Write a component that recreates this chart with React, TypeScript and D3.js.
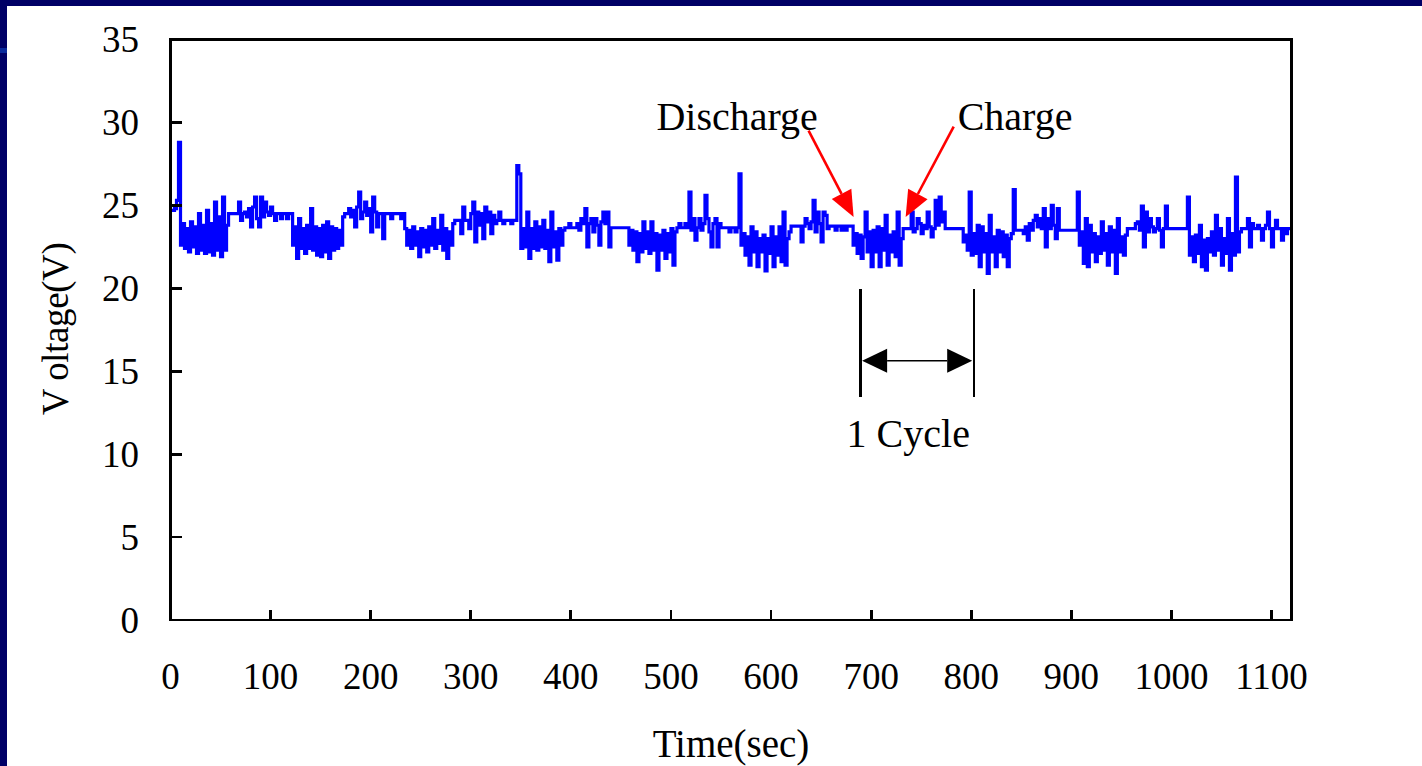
import React from "react";
import * as d3 from "d3";

// Axis ticks
const xTicks = [0, 100, 200, 300, 400, 500, 600, 700, 800, 900, 1000, 1100];
const yTicks = [0, 5, 10, 15, 20, 25, 30, 35];

// Voltage readings, one every 2 s, grouped by discharge / charge phase
const sampleStep = 2;
const segmentStarts = [
  0, 58, 122, 172, 234, 282, 350, 392, 458, 506,
  570, 618, 682, 732, 792, 840, 908, 956, 1018, 1070,
];

const discharge1 = [24.7, 24.7, 24.8, 25.3, 28.8, 22.6, 23.9, 22.4, 23.6, 22.2, 24.0, 22.5, 23.7, 22.1, 24.5, 22.3, 23.8, 22.1, 24.7, 22.2, 23.9, 22.0, 25.2, 22.3, 24.3, 21.9, 25.5, 22.3, 23.8];
const charge1 = [24.5, 24.5, 24.5, 24.5, 24.5, 25.2, 24.1, 24.5, 24.6, 24.3, 24.8, 23.7, 24.9, 25.5, 24.2, 23.7, 25.5, 24.3, 25.2, 24.6, 24.4, 24.9, 24.5, 24.1, 24.5, 24.5, 24.2, 24.5, 24.5, 24.2, 24.5, 24.5];
const discharge2 = [22.6, 23.7, 21.8, 24.2, 22.4, 23.6, 22.1, 23.8, 22.4, 24.8, 22.3, 23.7, 22.0, 23.6, 21.9, 23.8, 22.2, 24.0, 21.8, 23.7, 22.3, 23.6, 22.4, 23.5, 22.6];
const charge2 = [24.3, 24.5, 24.5, 24.8, 24.3, 24.7, 23.7, 24.9, 25.8, 24.2, 24.6, 25.2, 24.4, 24.8, 23.4, 25.5, 24.6, 23.7, 24.5, 24.5, 23.0, 24.5, 24.5, 24.5, 24.2, 24.5, 24.5, 24.5, 24.5, 24.2, 24.5];
const discharge3 = [23.6, 22.6, 23.5, 22.4, 23.7, 22.6, 23.4, 21.9, 23.6, 22.5, 23.5, 22.2, 23.7, 22.6, 24.2, 22.4, 23.5, 22.7, 24.4, 22.3, 23.6, 21.8, 23.4, 22.6];
const charge3 = [23.9, 24.1, 24.1, 24.1, 23.3, 24.9, 24.1, 24.1, 23.6, 24.5, 25.2, 22.8, 24.6, 23.8, 24.5, 23.0, 24.9, 24.0, 24.6, 23.3, 24.4, 23.9, 24.1, 24.6, 24.1, 23.9, 24.1, 24.1, 24.1, 23.9, 24.1, 24.1, 27.4, 26.9];
const discharge4 = [22.4, 23.6, 22.5, 24.6, 21.8, 23.6, 22.4, 24.0, 22.3, 23.7, 22.5, 24.1, 22.4, 23.5, 21.6, 24.6, 22.5, 23.4, 21.7, 23.6, 22.6];
const charge4 = [23.5, 23.65, 23.65, 23.9, 23.65, 23.65, 23.65, 23.9, 23.5, 24.2, 23.9, 24.8, 22.5, 23.9, 24.2, 23.4, 24.2, 23.8, 22.6, 24.0, 24.6, 23.9, 24.6, 22.5, 23.65, 23.65, 23.65, 23.65, 23.65, 23.65, 23.65, 23.65, 23.65];
const discharge5 = [22.6, 23.5, 22.3, 23.4, 21.6, 23.3, 22.2, 24.0, 22.4, 23.4, 22.1, 24.0, 22.3, 23.3, 21.1, 23.2, 22.3, 23.5, 21.8, 23.3, 22.2, 23.6, 21.4, 23.4];
const charge5 = [23.65, 23.9, 23.65, 23.65, 23.9, 23.65, 25.8, 23.5, 24.2, 22.9, 23.65, 24.2, 23.5, 23.9, 25.6, 24.2, 23.4, 22.5, 23.9, 24.2, 22.5, 23.9, 23.65, 23.65, 23.65, 23.65, 23.4, 23.65, 23.65, 23.4, 23.65, 26.9];
const discharge6 = [22.6, 23.3, 22.0, 23.1, 21.4, 23.7, 22.2, 23.4, 21.3, 23.0, 22.2, 23.2, 21.05, 23.0, 22.1, 23.7, 21.3, 23.1, 22.0, 23.7, 21.6, 24.6, 21.4, 23.0];
const charge6 = [23.4, 23.75, 23.75, 23.75, 23.75, 23.75, 22.8, 23.75, 24.2, 23.9, 23.6, 24.0, 25.3, 23.4, 24.6, 23.9, 22.8, 24.6, 24.4, 23.6, 23.75, 23.75, 23.75, 23.5, 23.75, 23.75, 23.5, 23.75, 23.5, 23.75, 23.75, 23.75];
const discharge7 = [22.6, 23.3, 22.1, 23.2, 21.8, 23.1, 24.6, 22.2, 23.4, 21.3, 23.5, 22.2, 23.7, 21.3, 23.6, 22.3, 24.4, 21.4, 23.2, 22.2, 23.4, 21.9, 24.6, 21.4, 23.0];
const charge7 = [23.6, 23.6, 23.6, 23.6, 24.6, 23.4, 23.6, 24.2, 23.9, 23.3, 23.8, 23.6, 24.6, 23.7, 23.1, 23.6, 25.3, 23.8, 25.5, 24.0, 24.6, 23.6, 23.6, 23.6, 23.6, 23.6, 23.6, 23.6, 23.6, 23.6];
const discharge8 = [22.8, 23.2, 22.3, 25.8, 22.0, 23.3, 22.1, 23.8, 21.3, 23.7, 22.2, 23.3, 20.9, 24.4, 22.2, 23.1, 21.3, 23.5, 22.2, 23.4, 21.9, 23.2, 21.3, 23.0];
const charge8 = [23.3, 25.95, 23.5, 23.5, 23.5, 23.5, 23.3, 23.7, 22.9, 23.9, 23.5, 24.1, 24.4, 23.7, 24.2, 23.6, 24.8, 22.5, 24.2, 23.6, 25.0, 23.8, 23.0, 24.8, 23.5, 23.5, 23.5, 23.5, 23.5, 23.5, 23.5, 23.5, 23.5, 25.8];
const discharge9 = [22.6, 23.4, 21.5, 24.2, 21.3, 23.8, 22.2, 23.3, 21.6, 23.1, 22.1, 24.0, 22.3, 23.3, 21.4, 23.7, 22.2, 23.5, 20.9, 24.2, 22.2, 23.1, 22.0, 23.2];
const charge9 = [23.6, 23.6, 23.6, 23.6, 23.9, 24.0, 23.5, 24.95, 22.5, 24.6, 23.4, 24.2, 23.7, 23.4, 23.6, 24.2, 23.5, 22.5, 23.6, 24.95, 23.6, 23.6, 23.6, 23.6, 23.6, 23.6, 23.6, 23.6, 23.6, 23.6, 25.5];
const discharge10 = [22.0, 23.1, 21.6, 23.2, 22.1, 23.8, 21.3, 22.9, 21.1, 23.0, 22.2, 23.4, 22.0, 24.4, 22.3, 23.6, 21.4, 23.0, 22.1, 24.2, 21.1, 23.3, 22.0, 26.7, 22.2, 23.4];
const charge10 = [23.6, 23.6, 23.6, 24.2, 22.5, 23.9, 23.6, 23.6, 23.8, 23.6, 22.9, 23.6, 23.8, 24.6, 23.6, 22.5, 23.6, 24.1, 23.6, 23.6, 22.9, 23.6, 23.3, 23.6, 23.6, 23.6];

const segments = [
  discharge1, charge1, discharge2, charge2, discharge3, charge3, discharge4, charge4,
  discharge5, charge5, discharge6, charge6, discharge7, charge7, discharge8, charge8,
  discharge9, charge9, discharge10, charge10,
];

// Annotation anchors in data units (time s, voltage V)
const phaseLabels = [
  { text: "Discharge", t: 485.5, v: 29.54 },
  { text: "Charge", t: 786.5, v: 29.54 },
];
const phaseArrows = [
  { from: [637.5, 29.5], to: [682.5, 24.3] },
  { from: [782.5, 29.75], to: [734.5, 24.3] },
];
const cycleSpan = { start: 689.5, end: 802.5, top: 19.93, bottom: 13.43, arrowAt: 15.63 };
const cycleLabel = { text: "1 Cycle", t: 675.5, v: 10.41 };

const W = 1422;
const H = 766;
const FONT = "'Liberation Serif', 'Times New Roman', serif";

function arrowHead(x1: number, y1: number, x2: number, y2: number, len: number, half: number) {
  const dx = x2 - x1;
  const dy = y2 - y1;
  const d = Math.hypot(dx, dy);
  const ux = dx / d;
  const uy = dy / d;
  const bx = x2 - ux * len;
  const by = y2 - uy * len;
  const nx = -uy;
  const ny = ux;
  return {
    base: [bx, by],
    points: `${x2},${y2} ${bx + nx * half},${by + ny * half} ${bx - nx * half},${by - ny * half}`,
  };
}

export default function App() {
  const x = d3.scaleLinear().domain([0, 1120]).range([170.5, 1291.5]);
  const y = d3.scaleLinear().domain([0, 35]).range([620, 39.5]);

  const points: [number, number][] = segments.flatMap((vals, s) =>
    vals.map((v, k) => [segmentStarts[s] + k * sampleStep, v] as [number, number])
  );
  const line = d3
    .line<[number, number]>()
    .x((d) => x(d[0]))
    .y((d) => y(d[1]))
    .curve(d3.curveStepAfter);

  const [x0, x1] = x.range();
  const [y0, y1] = y.range();

  const cy = y(cycleSpan.arrowAt);
  const cxl = x(cycleSpan.start);
  const cxr = x(cycleSpan.end);
  const leftHead = arrowHead(cxr, cy, cxl + 1.5, cy, 25, 12);
  const rightHead = arrowHead(cxl, cy, cxr - 1.5, cy, 25, 12);

  return (
    <svg
      width={W}
      height={H}
      style={{ position: "fixed", left: 0, top: 0, background: "#ffffff" }}
      fontFamily={FONT}
    >
      <rect x={0} y={0} width={W} height={H} fill="#ffffff" />
      {/* slide border */}
      <rect x={0} y={0} width={W} height={6} fill="#000066" />
      <rect x={0} y={0} width={7} height={H} fill="#000066" />
      <rect x={0} y={48} width={7} height={5} fill="#0a2a9c" />

      {/* voltage trace */}
      <path
        d={line(points) || ""}
        fill="none"
        stroke="#0000ff"
        strokeWidth={3.2}
        strokeLinejoin="miter"
      />

      {/* plot frame */}
      <rect
        x={x0}
        y={y1}
        width={x1 - x0}
        height={y0 - y1}
        fill="none"
        stroke="#000"
        strokeWidth={2.6}
        shapeRendering="crispEdges"
      />

      {/* y ticks and labels */}
      {yTicks.map((t) => (
        <g key={`y${t}`}>
          {t > 0 && t < 35 && (
            <line x1={x0} x2={x0 + 11} y1={y(t)} y2={y(t)} stroke="#000" strokeWidth={2.8} shapeRendering="crispEdges" />
          )}
          <text x={139} y={y(t)} dy="0.34em" textAnchor="end" fontSize={37} fill="#000">
            {t}
          </text>
        </g>
      ))}

      {/* x ticks and labels */}
      {xTicks.map((t) => (
        <g key={`x${t}`}>
          {t > 0 && (
            <line x1={x(t)} x2={x(t)} y1={y0} y2={y0 - 10} stroke="#000" strokeWidth={2.8} shapeRendering="crispEdges" />
          )}
          <text x={x(t)} y={689} textAnchor="middle" fontSize={37} fill="#000">
            {t}
          </text>
        </g>
      ))}

      {/* axis titles */}
      <text x={(x0 + x1) / 2} y={756.5} textAnchor="middle" fontSize={39} fill="#000">
        Time(sec)
      </text>
      <text
        transform={`translate(68,329) rotate(-90)`}
        textAnchor="middle"
        fontSize={37}
        letterSpacing={-0.4}
        fill="#000"
      >
        V oltage(V)
      </text>

      {/* phase annotations */}
      {phaseLabels.map((l) => (
        <text key={l.text} x={x(l.t)} y={y(l.v)} fontSize={40} fill="#000">
          {l.text}
        </text>
      ))}
      {phaseArrows.map((a, i) => {
        const fx = x(a.from[0]);
        const fy = y(a.from[1]);
        const tx = x(a.to[0]);
        const ty = y(a.to[1]);
        const head = arrowHead(fx, fy, tx, ty, 26, 11);
        return (
          <g key={`arrow${i}`}>
            <line x1={fx} y1={fy} x2={head.base[0]} y2={head.base[1]} stroke="#ff0000" strokeWidth={2.6} />
            <polygon points={head.points} fill="#ff0000" />
          </g>
        );
      })}

      {/* one-cycle bracket */}
      <line x1={cxl} x2={cxl} y1={y(cycleSpan.top)} y2={y(cycleSpan.bottom)} stroke="#000" strokeWidth={2.4} shapeRendering="crispEdges" />
      <line x1={cxr} x2={cxr} y1={y(cycleSpan.top)} y2={y(cycleSpan.bottom)} stroke="#000" strokeWidth={2.4} shapeRendering="crispEdges" />
      <line x1={leftHead.base[0]} x2={rightHead.base[0]} y1={cy} y2={cy} stroke="#000" strokeWidth={1.6} />
      <polygon points={leftHead.points} fill="#000" />
      <polygon points={rightHead.points} fill="#000" />
      <text x={x(cycleLabel.t)} y={y(cycleLabel.v)} fontSize={40} fill="#000">
        {cycleLabel.text}
      </text>
    </svg>
  );
}
